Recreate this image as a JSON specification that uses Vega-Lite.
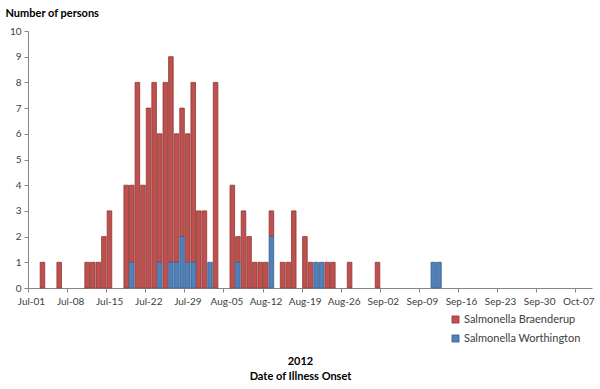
{
  "$schema": "https://vega.github.io/schema/vega-lite/v6.json",
  "autosize": "none",
  "width": 564,
  "height": 257,
  "padding": {"left": 28, "top": 31, "right": 8, "bottom": 101},
  "background": "white",
  "config": {
    "view": {"stroke": null},
    "font": "Lato",
    "axis": {"grid": false, "domainColor": "#868686", "tickColor": "#868686", "labelColor": "#404040", "labelFont": "Lato", "labelFontSize": 10, "titleFont": "Lato", "titleColor": "#000000"}
  },
  "data": {
    "values": [
      {"date": "2012-07-03T00:00:00", "serotype": "Salmonella Braenderup", "count": 1},
      {"date": "2012-07-06T00:00:00", "serotype": "Salmonella Braenderup", "count": 1},
      {"date": "2012-07-11T00:00:00", "serotype": "Salmonella Braenderup", "count": 1},
      {"date": "2012-07-12T00:00:00", "serotype": "Salmonella Braenderup", "count": 1},
      {"date": "2012-07-13T00:00:00", "serotype": "Salmonella Braenderup", "count": 1},
      {"date": "2012-07-14T00:00:00", "serotype": "Salmonella Braenderup", "count": 2},
      {"date": "2012-07-15T00:00:00", "serotype": "Salmonella Braenderup", "count": 3},
      {"date": "2012-07-18T00:00:00", "serotype": "Salmonella Braenderup", "count": 4},
      {"date": "2012-07-19T00:00:00", "serotype": "Salmonella Braenderup", "count": 3},
      {"date": "2012-07-19T00:00:00", "serotype": "Salmonella Worthington", "count": 1},
      {"date": "2012-07-20T00:00:00", "serotype": "Salmonella Braenderup", "count": 8},
      {"date": "2012-07-21T00:00:00", "serotype": "Salmonella Braenderup", "count": 4},
      {"date": "2012-07-22T00:00:00", "serotype": "Salmonella Braenderup", "count": 7},
      {"date": "2012-07-23T00:00:00", "serotype": "Salmonella Braenderup", "count": 8},
      {"date": "2012-07-24T00:00:00", "serotype": "Salmonella Braenderup", "count": 5},
      {"date": "2012-07-24T00:00:00", "serotype": "Salmonella Worthington", "count": 1},
      {"date": "2012-07-25T00:00:00", "serotype": "Salmonella Braenderup", "count": 8},
      {"date": "2012-07-26T00:00:00", "serotype": "Salmonella Braenderup", "count": 8},
      {"date": "2012-07-26T00:00:00", "serotype": "Salmonella Worthington", "count": 1},
      {"date": "2012-07-27T00:00:00", "serotype": "Salmonella Braenderup", "count": 5},
      {"date": "2012-07-27T00:00:00", "serotype": "Salmonella Worthington", "count": 1},
      {"date": "2012-07-28T00:00:00", "serotype": "Salmonella Braenderup", "count": 5},
      {"date": "2012-07-28T00:00:00", "serotype": "Salmonella Worthington", "count": 2},
      {"date": "2012-07-29T00:00:00", "serotype": "Salmonella Braenderup", "count": 5},
      {"date": "2012-07-29T00:00:00", "serotype": "Salmonella Worthington", "count": 1},
      {"date": "2012-07-30T00:00:00", "serotype": "Salmonella Braenderup", "count": 7},
      {"date": "2012-07-30T00:00:00", "serotype": "Salmonella Worthington", "count": 1},
      {"date": "2012-07-31T00:00:00", "serotype": "Salmonella Braenderup", "count": 3},
      {"date": "2012-08-01T00:00:00", "serotype": "Salmonella Braenderup", "count": 3},
      {"date": "2012-08-02T00:00:00", "serotype": "Salmonella Worthington", "count": 1},
      {"date": "2012-08-03T00:00:00", "serotype": "Salmonella Braenderup", "count": 8},
      {"date": "2012-08-06T00:00:00", "serotype": "Salmonella Braenderup", "count": 4},
      {"date": "2012-08-07T00:00:00", "serotype": "Salmonella Braenderup", "count": 1},
      {"date": "2012-08-07T00:00:00", "serotype": "Salmonella Worthington", "count": 1},
      {"date": "2012-08-08T00:00:00", "serotype": "Salmonella Braenderup", "count": 3},
      {"date": "2012-08-09T00:00:00", "serotype": "Salmonella Braenderup", "count": 2},
      {"date": "2012-08-10T00:00:00", "serotype": "Salmonella Braenderup", "count": 1},
      {"date": "2012-08-11T00:00:00", "serotype": "Salmonella Braenderup", "count": 1},
      {"date": "2012-08-12T00:00:00", "serotype": "Salmonella Braenderup", "count": 1},
      {"date": "2012-08-13T00:00:00", "serotype": "Salmonella Braenderup", "count": 1},
      {"date": "2012-08-13T00:00:00", "serotype": "Salmonella Worthington", "count": 2},
      {"date": "2012-08-15T00:00:00", "serotype": "Salmonella Braenderup", "count": 1},
      {"date": "2012-08-16T00:00:00", "serotype": "Salmonella Braenderup", "count": 1},
      {"date": "2012-08-17T00:00:00", "serotype": "Salmonella Braenderup", "count": 3},
      {"date": "2012-08-19T00:00:00", "serotype": "Salmonella Braenderup", "count": 2},
      {"date": "2012-08-20T00:00:00", "serotype": "Salmonella Braenderup", "count": 1},
      {"date": "2012-08-21T00:00:00", "serotype": "Salmonella Worthington", "count": 1},
      {"date": "2012-08-22T00:00:00", "serotype": "Salmonella Worthington", "count": 1},
      {"date": "2012-08-23T00:00:00", "serotype": "Salmonella Braenderup", "count": 1},
      {"date": "2012-08-24T00:00:00", "serotype": "Salmonella Braenderup", "count": 1},
      {"date": "2012-08-27T00:00:00", "serotype": "Salmonella Braenderup", "count": 1},
      {"date": "2012-09-01T00:00:00", "serotype": "Salmonella Braenderup", "count": 1},
      {"date": "2012-09-11T00:00:00", "serotype": "Salmonella Worthington", "count": 1},
      {"date": "2012-09-12T00:00:00", "serotype": "Salmonella Worthington", "count": 1}
    ]
  },
  "mark": {"type": "bar", "strokeWidth": 0.8},
  "encoding": {
    "x": {
      "field": "date",
      "type": "temporal",
      "timeUnit": "yearmonthdate",
      "scale": {"domain": [{"year": 2012, "month": "jul", "date": 1}, {"year": 2012, "month": "oct", "date": 10}]},
      "axis": {
        "values": [
          {"year": 2012, "month": "jul", "date": 1},
          {"year": 2012, "month": "jul", "date": 8},
          {"year": 2012, "month": "jul", "date": 15},
          {"year": 2012, "month": "jul", "date": 22},
          {"year": 2012, "month": "jul", "date": 29},
          {"year": 2012, "month": "aug", "date": 5},
          {"year": 2012, "month": "aug", "date": 12},
          {"year": 2012, "month": "aug", "date": 19},
          {"year": 2012, "month": "aug", "date": 26},
          {"year": 2012, "month": "sep", "date": 2},
          {"year": 2012, "month": "sep", "date": 9},
          {"year": 2012, "month": "sep", "date": 16},
          {"year": 2012, "month": "sep", "date": 23},
          {"year": 2012, "month": "sep", "date": 30},
          {"year": 2012, "month": "oct", "date": 7}
        ],
        "format": "%b-%d",
        "labelOffset": 3,
        "labelPadding": 4,
        "tickSize": 4,
        "labelFlush": false,
        "labelOverlap": false,
        "title": ["2012", "Date of Illness Onset"],
        "titleFontSize": 11,
        "titleFontWeight": "bold",
        "titleLineHeight": 15,
        "titleX": 272,
        "titleY": 73,
        "titleBaseline": "middle",
        "titleAnchor": null
      }
    },
    "y": {
      "aggregate": "sum",
      "field": "count",
      "type": "quantitative",
      "stack": "zero",
      "scale": {"domain": [0, 10]},
      "axis": {
        "values": [0, 1, 2, 3, 4, 5, 6, 7, 8, 9, 10],
        "tickSize": 4,
        "labelPadding": 3,
        "title": "Number of persons",
        "titleAngle": 0,
        "titleAlign": "left",
        "titleBaseline": "middle",
        "titleX": -23,
        "titleY": -18,
        "titleFontSize": 11,
        "titleFontWeight": "bold"
      }
    },
    "color": {
      "field": "serotype",
      "type": "nominal",
      "scale": {"domain": ["Salmonella Braenderup", "Salmonella Worthington"], "range": ["#C0504D", "#4F81BD"]},
      "legend": {
        "title": null,
        "orient": "none",
        "legendX": 422,
        "legendY": 283,
        "symbolType": "square",
        "symbolSize": 50,
        "symbolStrokeWidth": 0.8,
        "labelFontSize": 11,
        "labelFont": "Lato",
        "labelColor": "#404040",
        "rowPadding": 7,
        "labelOffset": 3
      }
    },
    "stroke": {
      "field": "serotype",
      "type": "nominal",
      "scale": {"domain": ["Salmonella Braenderup", "Salmonella Worthington"], "range": ["#8C3836", "#385D8A"]},
      "legend": null
    },
    "order": {"field": "serotype", "sort": "descending"}
  }
}
